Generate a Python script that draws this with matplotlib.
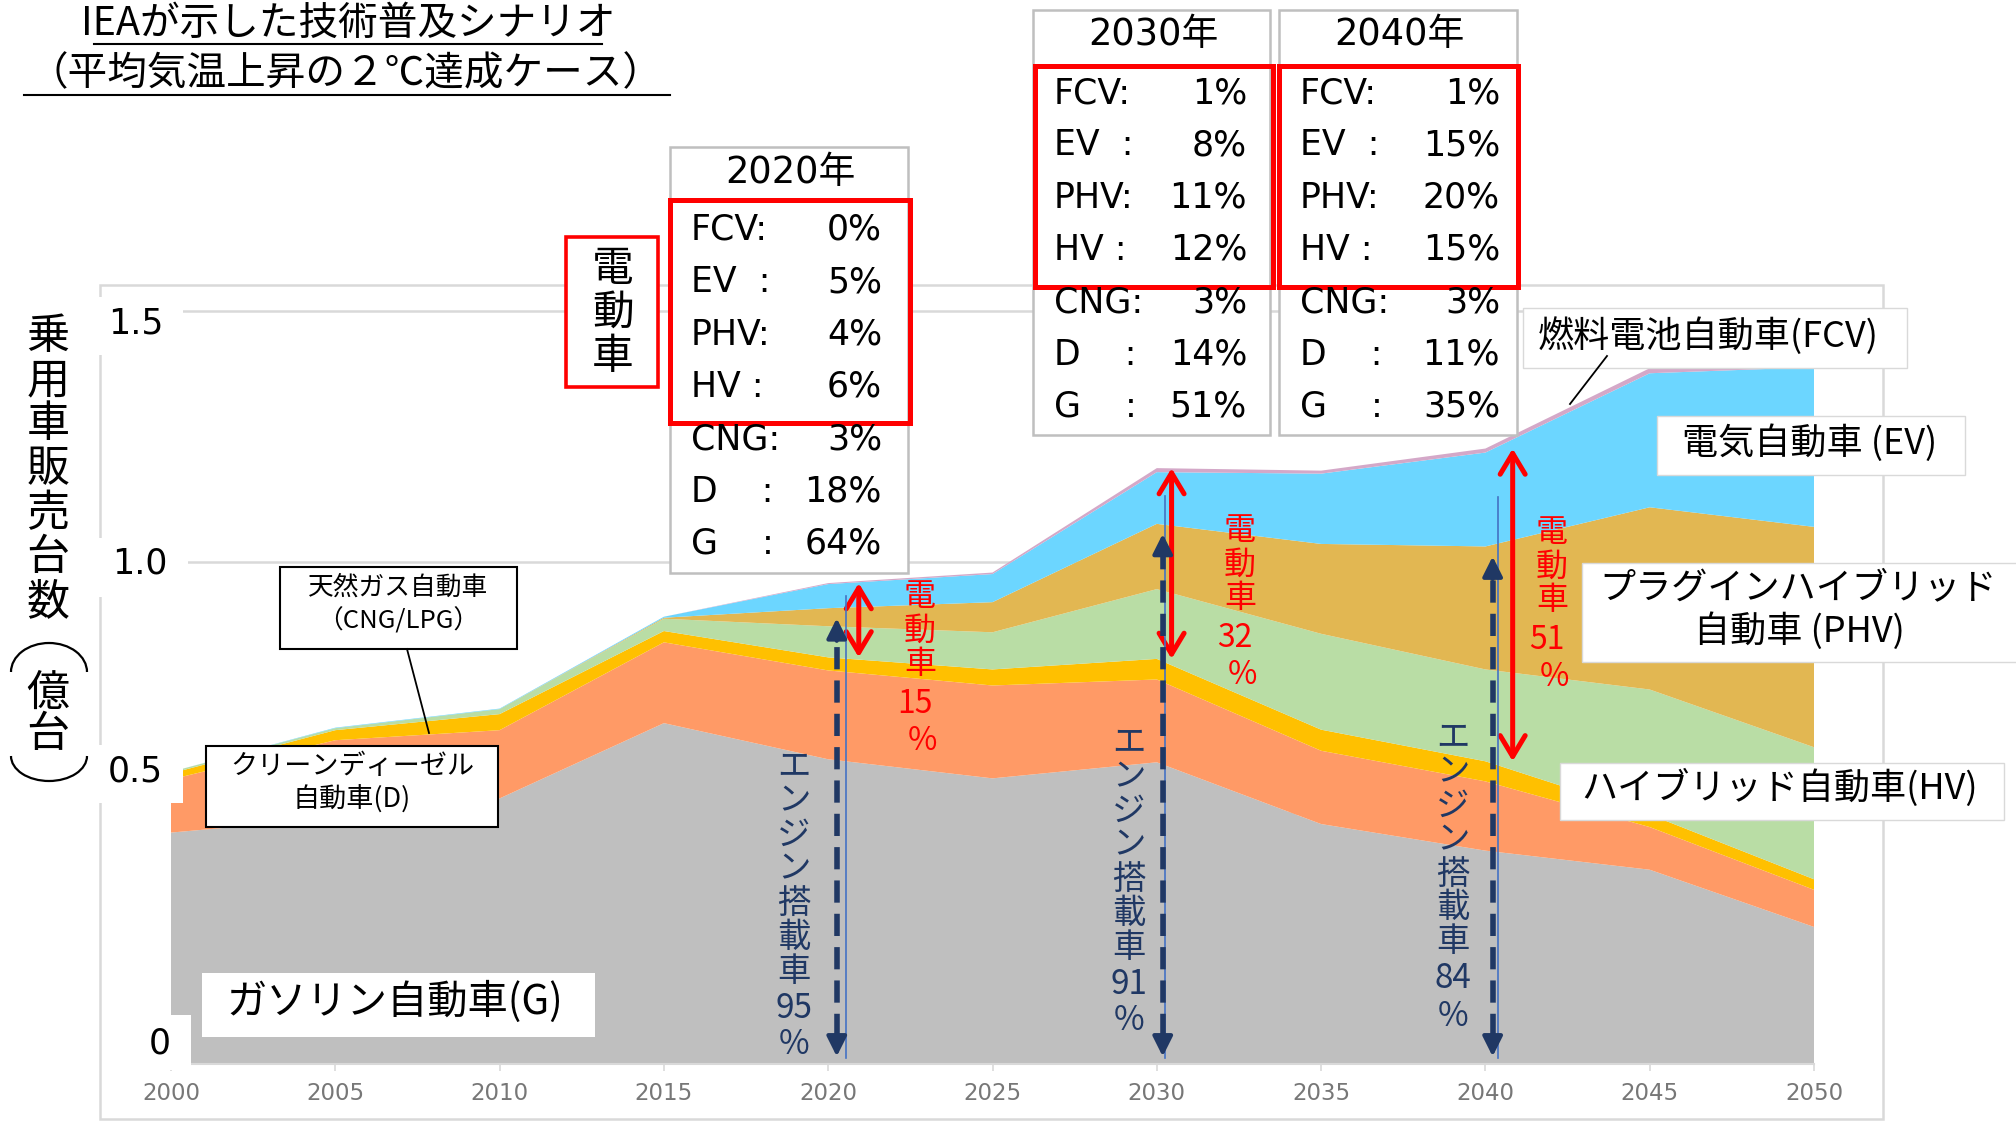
"""
IEA 2℃シナリオ: 乗用車販売台数の技術別内訳 (積み上げ面グラフ + 注記)
"""
import numpy as np
import matplotlib
matplotlib.use("Agg")
import matplotlib.pyplot as plt
from matplotlib.patches import Rectangle, Arc
from matplotlib.lines import Line2D

plt.rcParams["font.family"] = ["Noto Sans CJK JP", "DejaVu Sans"]
LATIN = ["DejaVu Sans", "Noto Sans CJK JP"]

W, H = 2016, 1121

# --- データ (億台) ---
years = [2000, 2005, 2010, 2015, 2020, 2025, 2030, 2035, 2040, 2045, 2050]
gasoline = [0.461, 0.49, 0.529, 0.679, 0.607, 0.569, 0.601, 0.478, 0.425, 0.387, 0.273]
diesel = [0.106, 0.155, 0.136, 0.161, 0.177, 0.185, 0.165, 0.146, 0.138, 0.085, 0.074]
cng = [0.012, 0.02, 0.032, 0.0225, 0.026, 0.032, 0.041, 0.042, 0.040, 0.025, 0.021]
hv = [0.003, 0.004, 0.010, 0.0245, 0.062, 0.074, 0.139, 0.191, 0.183, 0.249, 0.263]
phv = [0.0, 0.0, 0.0, 0.002, 0.036, 0.060, 0.130, 0.179, 0.245, 0.363, 0.439]
ev = [0.0, 0.001, 0.001, 0.002, 0.048, 0.056, 0.103, 0.140, 0.187, 0.267, 0.318]
fcv = [0.0, 0.0, 0.0, 0.0, 0.002, 0.003, 0.008, 0.006, 0.008, 0.010, 0.003]

AREA_COLORS = ["#BFBFBF", "#FF9A66", "#FFC000", "#B9DDA5", "#E2B752", "#6CD6FF", "#D4A8C8"]

# 年別シェア表
snap_years = [2020, 2030, 2040]
share_labels = ["FCV:", "EV  :", "PHV:", "HV :", "CNG:", "D    :", "G    :"]
shares_2020 = ["0%", "5%", "4%", "6%", "3%", "18%", "64%"]
shares_2030 = ["1%", "8%", "11%", "12%", "3%", "14%", "51%"]
shares_2040 = ["1%", "15%", "20%", "15%", "3%", "11%", "35%"]
electric_pct = ["15", "32", "51"]
engine_pct = ["95", "91", "84"]

y_tick_labels = ["1.5", "1.0", "0.5", "0"]

RED = "#FF0000"
NAVY = "#203864"

fig = plt.figure(figsize=(W / 100, H / 100), dpi=100)
fig.patch.set_facecolor("white")


def fx(x):
    return x / W


def fy(y):
    return 1 - y / H


def box(x0, y0, x1, y1, ec="none", lw=1.0, fc="white", z=4):
    fig.add_artist(Rectangle((fx(x0), fy(y1)), (x1 - x0) / W, (y1 - y0) / H,
                             transform=fig.transFigure, fc=fc, ec=ec, lw=lw, zorder=z))


def label(x, y, s, size, z=6, **kw):
    kw.setdefault("ha", "center")
    fig.text(fx(x), fy(y), s, fontsize=size, va="center", zorder=z, **kw)


def line(x0, y0, x1, y1, color="black", lw=1.5, z=5):
    fig.add_artist(Line2D([fx(x0), fx(x1)], [fy(y0), fy(y1)],
                          transform=fig.transFigure, color=color, lw=lw, zorder=z))


# --- 積み上げ面 ---
ax = fig.add_axes([171 / W, 57 / H, 1643 / W, 1.6 * 502 / H])
ax.stackplot(years, gasoline, diesel, cng, hv, phv, ev, fcv, colors=AREA_COLORS, lw=0)
ax.set_xlim(2000, 2050)
ax.set_ylim(0, 1.6)
ax.set_yticks([0.5, 1.0, 1.5])
ax.set_yticklabels([])
ax.tick_params(axis="y", length=0)
ax.grid(axis="y", color="#D9D9D9", lw=1.8)
ax.set_axisbelow(True)
for s in ("left", "right", "top"):
    ax.spines[s].set_visible(False)
ax.spines["bottom"].set_color("#D9D9D9")
ax.spines["bottom"].set_linewidth(1.5)
ax.set_xticks(years)
ax.tick_params(axis="x", direction="out", length=5, width=1.2, color="#D9D9D9",
               labelcolor="#777777", labelsize=16.5, pad=8)
for t in ax.get_xticklabels():
    t.set_fontfamily("DejaVu Sans")

stack = np.cumsum([gasoline, diesel, cng, hv, phv, ev, fcv], axis=0)
cng_top, phv_top, total = stack[2], stack[4], stack[6]

# 矢印 (電動車 / エンジン搭載車)
red_dx = [0.93, 0.45, 0.83]
engine_dx = [0.26, 0.18, 0.22]
thin_dx = [0.55, 0.26, 0.37]
for k, yr in enumerate(snap_years):
    i = years.index(yr)
    ax.annotate("", xy=(yr + red_dx[k], total[i]), xytext=(yr + red_dx[k], cng_top[i]),
                arrowprops=dict(arrowstyle="<->,head_length=0.75,head_width=0.45",
                                color=RED, lw=3.6, shrinkA=0, shrinkB=0, mutation_scale=20))
    x = yr + engine_dx[k]
    top, bot = phv_top[i] - 0.02, 0.015
    ax.plot([yr + thin_dx[k]] * 2, [0.012, (total[i] + phv_top[i]) / 2],
            color="#4472C4", lw=1.2, zorder=4)
    ax.plot([x, x], [bot + 0.04, top - 0.04], color=NAVY, lw=4, ls=(0, (4, 2)),
            solid_capstyle="butt", zorder=5)
    for tip, tail in ((top, top - 0.045), (bot, bot + 0.045)):
        ax.annotate("", xy=(x, tip), xytext=(x, tail),
                    arrowprops=dict(arrowstyle="-|>,head_length=0.6,head_width=0.3",
                                    color=NAVY, lw=3, shrinkA=0, shrinkB=0,
                                    mutation_scale=20), zorder=5)

# --- グラフ枠と軸ラベル ---
box(100, 285, 1883, 1119, ec="#D9D9D9", lw=1.8, fc="none", z=1)
for (x0, y0, x1, y1) in [(89, 297, 183, 355), (89, 538, 188, 597),
                         (89, 745, 183, 803), (120, 1015, 191, 1070)]:
    box(x0, y0, x1, y1, z=2)
for s, (x, y) in zip(y_tick_labels, [(136, 323), (140, 564), (135, 771), (160, 1043)]):
    label(x, y, s, 25, z=3, family=LATIN)

for j, ch in enumerate("乗用車販売台数"):
    label(48, 337 + 44.2 * j, ch, 31)
label(48, 694, "億", 31)
label(48, 735, "台", 31)
# 縦書きの括弧
fig.add_artist(Arc((fx(49), fy(672)), 76 / W, 58 / H, theta1=0, theta2=180,
                   transform=fig.transFigure, color="black", lw=1.6, zorder=6))
fig.add_artist(Arc((fx(49), fy(756)), 76 / W, 50 / H, theta1=180, theta2=360,
                   transform=fig.transFigure, color="black", lw=1.6, zorder=6))

# --- タイトル ---
label(348, 24, "IEAが示した技術普及シナリオ", 28.5)
line(94, 44, 602, 44, lw=1.5)
label(346, 74, "（平均気温上昇の２℃達成ケース）", 28.5)
line(24, 95, 670, 95, lw=1.5)

# --- 年別シェア表 ---
tables = [
    dict(outer=(670, 147, 908, 573), red=(670, 200, 910, 423), head=(790, 173),
         x0=691, x1=882, row0=230, vals=shares_2020),
    dict(outer=(1033, 10, 1270, 435), red=(1035, 66, 1273, 287), head=(1153, 35),
         x0=1054, x1=1247, row0=93, vals=shares_2030),
    dict(outer=(1279, 10, 1517, 435), red=(1279, 66, 1518, 287), head=(1399, 35),
         x0=1300, x1=1500, row0=93, vals=shares_2040),
]
for yr, t in zip(snap_years, tables):
    box(*t["outer"], ec="#BFBFBF", lw=1.8, z=4)
    box(*t["red"], ec=RED, lw=3.6, fc="none", z=5)
    label(t["head"][0], t["head"][1], f"{yr}年", 26.5, family=LATIN)
    for r, (lab, v) in enumerate(zip(share_labels, t["vals"])):
        yy = t["row0"] + 52.3 * r
        label(t["x0"], yy, lab, 25, ha="left", family=LATIN)
        label(t["x1"], yy, v, 25, ha="right", family=LATIN)

box(566, 237, 658, 387, ec=RED, lw=2.6, z=4)
for ch, yy in zip("電動車", [270, 313, 358]):
    label(613, yy, ch, 30)

# 赤・紺の縦書き
red_x = [920, 1240, 1552]
red_y0 = [597, 531, 533]
for k in range(3):
    for j, ch in enumerate("電動車"):
        label(red_x[k], red_y0[k] + 33.5 * j, ch, 23, color=RED)
    label(red_x[k] - 5, red_y0[k] + 107, electric_pct[k], 23, color=RED)
    label(red_x[k] + 2, red_y0[k] + 144, "%", 23, color=RED)

eng_x = [794, 1129, 1453]
eng_y0 = [767, 743, 738]
for k in range(3):
    for j, ch in enumerate("エンジン搭載車"):
        label(eng_x[k], eng_y0[k] + 34 * j, ch, 24, color=NAVY)
    label(eng_x[k], eng_y0[k] + 241, engine_pct[k], 24, color=NAVY)
    label(eng_x[k], eng_y0[k] + 278, "%", 24, color=NAVY)

# --- 系列ラベル ---
box(280, 567, 517, 649, ec="black", lw=1.5)
label(398, 588, "天然ガス自動車", 18.5)
label(398, 621, "（CNG/LPG）", 18.5)
line(407, 649, 429, 733, lw=1.3)

box(206, 746, 498, 827, ec="black", lw=1.5)
label(352, 767, "クリーンディーゼル", 19.5)
label(352, 800, "自動車(D)", 19.5)

box(202, 973, 595, 1037)
label(395, 1002, "ガソリン自動車(G)", 29)

box(1523, 308, 1907, 368, ec="#D9D9D9", lw=1)
label(1708, 336, "燃料電池自動車(FCV)", 26)
line(1607, 356, 1570, 404, lw=1.3)

box(1657, 416, 1965, 475, ec="#D9D9D9", lw=1)
label(1810, 443, "電気自動車 (EV)", 26)

box(1582, 563, 2030, 662, ec="#D9D9D9", lw=1)
label(1798, 588, "プラグインハイブリッド", 26)
label(1799, 631, "自動車 (PHV)", 26)

box(1560, 763, 2004, 820, ec="#D9D9D9", lw=1)
label(1780, 788, "ハイブリッド自動車(HV)", 26)

fig.savefig("out.png", dpi=100, facecolor="white")
